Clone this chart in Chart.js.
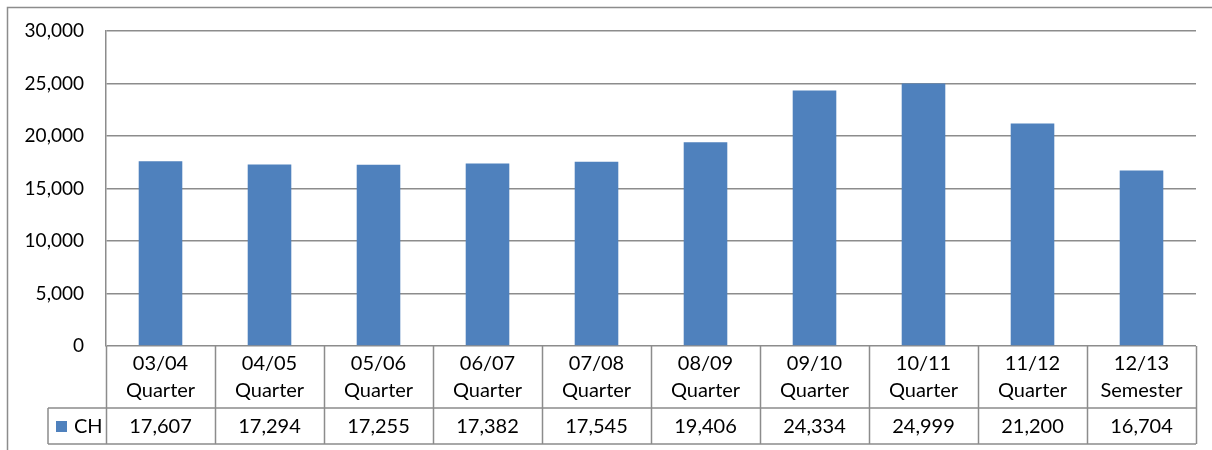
<!DOCTYPE html>
<html>
<head>
<meta charset="utf-8">
<script src="https://cdn.jsdelivr.net/npm/chart.js@4/dist/chart.umd.min.js"></script>
<style>
  html, body { margin: 0; padding: 0; background: #fff; }
  #wrap { width: 1212px; height: 450px; }
</style>
</head>
<body>
<div id="wrap"><canvas id="myChart"></canvas></div>
<script>
// chart data
var years = ["03/04", "04/05", "05/06", "06/07", "07/08", "08/09", "09/10", "10/11", "11/12", "12/13"];
var periods = ["Quarter", "Quarter", "Quarter", "Quarter", "Quarter", "Quarter", "Quarter", "Quarter", "Quarter", "Semester"];
var seriesName = "CH";
var chValues = [17607, 17294, 17255, 17382, 17545, 19406, 24334, 24999, 21200, 16704];

var lineColor = "#8c8c8c";
var barColor = "#4f81bd";
var fontFamily = "Lato, 'Open Sans', sans-serif";

// draws the frame and the data table under the plot
var dataTable = {
	id: "dataTable",
	beforeDraw: function(chart) {
		var ctx = chart.ctx;
		ctx.save();
		ctx.strokeStyle = lineColor;
		ctx.lineWidth = 1.5;
		ctx.beginPath();
		ctx.moveTo(7.5, chart.height);
		ctx.lineTo(7.5, 7.5);
		ctx.lineTo(chart.width, 7.5);
		ctx.stroke();
		ctx.restore();
	},
	afterDraw: function(chart) {
		var ctx = chart.ctx;
		var area = chart.chartArea;
		var x = chart.scales.x;
		var n = chart.data.labels.length;
		var top = area.bottom;
		var mid = top + 62;
		var bottom = mid + 36;
		var legendLeft = 48;
		var step = (area.right - area.left) / n;

		ctx.save();
		ctx.strokeStyle = lineColor;
		ctx.lineWidth = 1.5;
		ctx.beginPath();
		for (var i = 0; i <= n; i++) {
			var bx = Math.round(area.left + i * step) + 0.5;
			ctx.moveTo(bx, top);
			ctx.lineTo(bx, bottom);
		}
		ctx.moveTo(legendLeft, mid);
		ctx.lineTo(area.right, mid);
		ctx.moveTo(legendLeft, bottom);
		ctx.lineTo(area.right, bottom);
		ctx.moveTo(legendLeft, mid);
		ctx.lineTo(legendLeft, bottom);
		ctx.stroke();

		ctx.fillStyle = "#000";
		ctx.font = "20px " + fontFamily;
		ctx.textAlign = "center";
		ctx.textBaseline = "middle";
		var vals = chart.data.datasets[0].data;
		for (var j = 0; j < n; j++) {
			var cx = x.getPixelForValue(j);
			var lab = chart.data.labels[j];
			ctx.fillText(lab[0], cx, top + 18);
			ctx.fillText(lab[1], cx, top + 45);
			ctx.fillText(vals[j].toLocaleString("en-US"), cx, mid + 19);
		}

		ctx.fillStyle = barColor;
		ctx.fillRect(56, mid + 13, 11, 11);
		ctx.fillStyle = "#000";
		ctx.textAlign = "left";
		ctx.fillText(chart.data.datasets[0].label, 74, mid + 19);
		ctx.restore();
	}
};

var labels = [];
for (var k = 0; k < years.length; k++) {
	labels.push([years[k], periods[k]]);
}

new Chart("myChart", {
	type: "bar",
	data: {
		labels: labels,
		datasets: [{
			label: seriesName,
			data: chValues,
			backgroundColor: barColor,
			barPercentage: 0.4,
			categoryPercentage: 1.0
		}]
	},
	options: {
		responsive: true,
		maintainAspectRatio: false,
		animation: false,
		layout: { padding: { left: 8, top: 31, right: 16, bottom: 104 } },
		plugins: {
			legend: { display: false },
			tooltip: { enabled: false }
		},
		scales: {
			x: { display: false },
			y: {
				min: 0,
				max: 30000,
				afterFit: function(scale) {
					scale.width = 98;
					scale.paddingTop = 0;
					scale.paddingBottom = 0;
				},
				ticks: {
					stepSize: 5000,
					color: "#000",
					padding: 22,
					font: { family: fontFamily, size: 19 },
					callback: function(v) { return v.toLocaleString("en-US"); }
				},
				grid: { color: lineColor, lineWidth: 1.5, drawTicks: false },
				border: { color: lineColor, width: 1.5 }
			}
		}
	},
	plugins: [dataTable]
});
</script>
</body>
</html>
